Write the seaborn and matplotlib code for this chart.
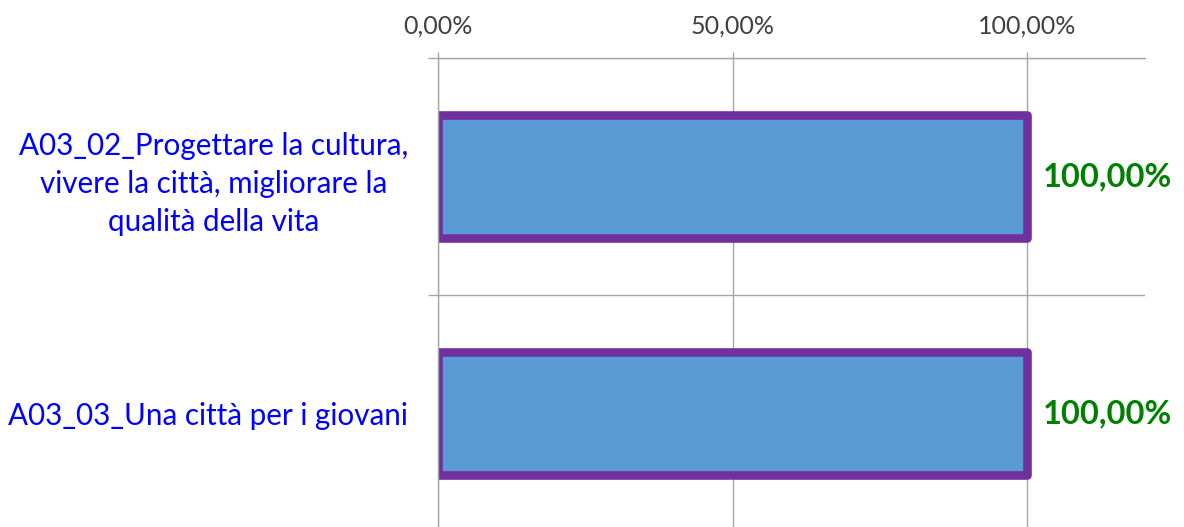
import matplotlib
matplotlib.use("Agg")
import matplotlib.pyplot as plt
import seaborn as sns
from matplotlib.ticker import FuncFormatter, FixedLocator

# dati
categorie = [
    "A03_02_Progettare la cultura,\nvivere la città, migliorare la\nqualità della vita",
    "A03_03_Una città per i giovani",
]
valori = [100.0, 100.0]
etichette_valori = ["100,00%", "100,00%"]
tick_x = [0, 50, 100]

sns.set_theme(style="white")
plt.rcParams['font.family'] = ['Lato', 'DejaVu Sans']

grigio = "#A6A6A6"

fig = plt.figure(figsize=(11.84, 5.27), dpi=100)
ax = fig.add_axes([0.3699, -0.0095, 0.5971, 0.8994])

sns.barplot(x=valori, y=categorie, orient="h", color="#5B9BD5",
            edgecolor="#7030A0", linewidth=6.2, width=0.52, saturation=1,
            ax=ax)
for p in ax.patches:
    p.set_joinstyle("round")

ax.set_xlim(0, 120)
ax.set_ylim(1.5, -0.5)

# asse x in alto
ax.xaxis.tick_top()
ax.xaxis.set_major_locator(FixedLocator(tick_x))
ax.xaxis.set_major_formatter(FuncFormatter(lambda v, pos: f"{v:.2f}".replace(".", ",") + "%"))
ax.tick_params(axis="x", which="major", top=True, length=4.5, width=1, color=grigio,
               labelsize=18, labelcolor="#404040", pad=10)

# asse y: etichette al centro, tacche ai bordi delle categorie
ax.yaxis.set_minor_locator(FixedLocator([-0.5, 0.5, 1.5]))
ax.tick_params(axis="y", which="major", left=False, length=0, pad=21.5,
               labelsize=21.3, labelcolor="#0000FF")
ax.tick_params(axis="y", which="minor", left=True, length=7, width=1, color=grigio)
for lab in ax.get_yticklabels():
    lab.set_multialignment("center")
    lab.set_linespacing(1.42)

ax.grid(False)
ax.xaxis.grid(True, which="major", color=grigio, linewidth=1)
ax.yaxis.grid(True, which="minor", color=grigio, linewidth=1)
ax.set_axisbelow(True)

for s in ["right", "bottom"]:
    ax.spines[s].set_visible(False)
for s in ["top", "left"]:
    ax.spines[s].set_color(grigio)
    ax.spines[s].set_linewidth(1)

ax.set_xlabel("")
ax.set_ylabel("")

ax.bar_label(ax.containers[0], labels=etichette_valori, padding=11,
             color="#008000", fontweight="bold", fontsize=23.5)

fig.savefig("out.png", dpi=100)
